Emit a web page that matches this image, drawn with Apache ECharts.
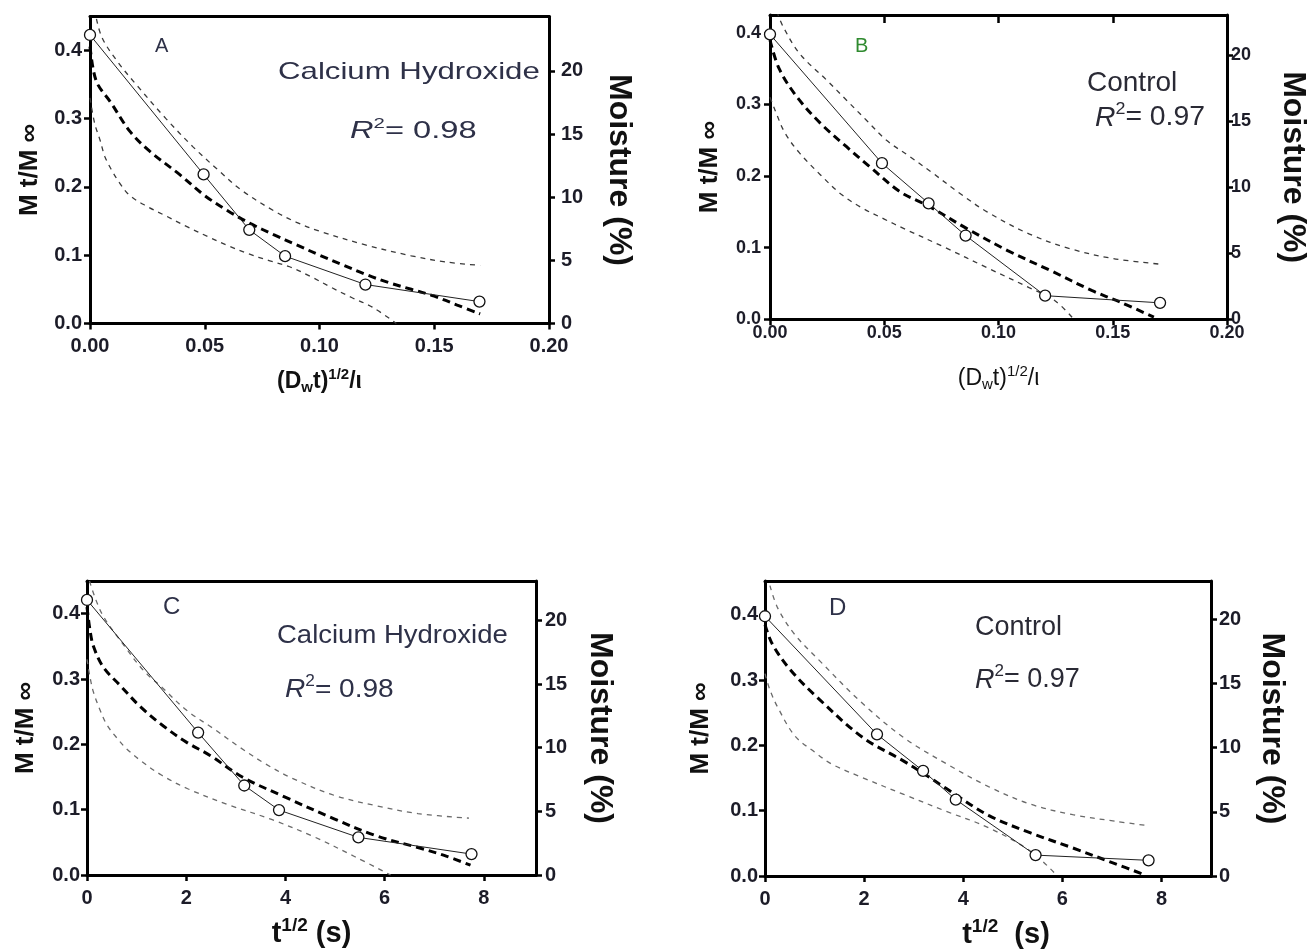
<!DOCTYPE html>
<html><head><meta charset="utf-8">
<script src="https://cdn.jsdelivr.net/npm/echarts@6/dist/echarts.min.js"></script>
<style>html,body{margin:0;padding:0;background:#fff}#c{width:1309px;height:951px}</style>
</head><body><div id="c"></div>
<script>
// ---------------- data ----------------
const xTicksAB = [0, 0.05, 0.10, 0.15, 0.20];
const xTicksCD = [0, 2, 4, 6, 8];
const yTicksLeft = [0, 0.1, 0.2, 0.3, 0.4];
const yTicksRight = [0, 5, 10, 15, 20];

// Panel A
const aObsX = [0, 0.0495, 0.0694, 0.085, 0.120, 0.1697];
const aObsY = [0.422, 0.218, 0.137, 0.0985, 0.057, 0.032];
const aFitX = [0, 0.0015, 0.0035, 0.0087, 0.0174, 0.026, 0.039, 0.05, 0.06, 0.07, 0.08, 0.09, 0.10, 0.11, 0.12, 0.13, 0.14, 0.15, 0.16, 0.17];
const aFitY = [0.405, 0.37, 0.349, 0.325, 0.281, 0.252, 0.218, 0.187, 0.165, 0.146, 0.13, 0.115, 0.10, 0.086, 0.072, 0.060, 0.050, 0.040, 0.027, 0.014];
const aUpX = [0.002, 0.005, 0.012, 0.02, 0.033, 0.045, 0.056, 0.066, 0.08, 0.09, 0.10, 0.12, 0.14, 0.155, 0.17];
const aUpY = [0.46, 0.42, 0.383, 0.35, 0.30, 0.258, 0.224, 0.195, 0.165, 0.148, 0.135, 0.115, 0.099, 0.090, 0.085];
const aLoX = [0, 0.002, 0.0044, 0.0065, 0.0095, 0.013, 0.0174, 0.025, 0.0333, 0.042, 0.0514, 0.06, 0.069, 0.078, 0.087, 0.096, 0.105, 0.114, 0.123, 0.1335];
const aLoY = [0.33, 0.293, 0.268, 0.244, 0.224, 0.205, 0.187, 0.171, 0.157, 0.142, 0.127, 0.114, 0.102, 0.092, 0.083, 0.069, 0.053, 0.038, 0.024, 0.0];

// Panel B
const bObsX = [0, 0.049, 0.0694, 0.0856, 0.1204, 0.1707];
const bObsY = [0.398, 0.218, 0.162, 0.117, 0.033, 0.023];
const bFitX = [0, 0.004, 0.0117, 0.022, 0.0335, 0.0437, 0.057, 0.0694, 0.086, 0.104, 0.1228, 0.141, 0.154, 0.168];
const bFitY = [0.39, 0.35, 0.311, 0.274, 0.241, 0.213, 0.178, 0.158, 0.127, 0.096, 0.068, 0.040, 0.023, 0.003];
const bUpX = [0.003, 0.0057, 0.013, 0.0248, 0.0335, 0.0422, 0.051, 0.0613, 0.0713, 0.083, 0.095, 0.1136, 0.132, 0.150, 0.1707];
const bUpY = [0.43, 0.409, 0.371, 0.334, 0.306, 0.278, 0.25, 0.227, 0.204, 0.176, 0.150, 0.119, 0.098, 0.085, 0.077];
const bLoX = [0, 0.0022, 0.0066, 0.013, 0.022, 0.031, 0.04, 0.05, 0.0584, 0.0768, 0.095, 0.1136, 0.1247, 0.133];
const bLoY = [0.31, 0.292, 0.26, 0.232, 0.202, 0.175, 0.156, 0.14, 0.127, 0.100, 0.072, 0.044, 0.026, 0.0];

// Panel C
const cObsX = [0, 2.24, 3.17, 3.87, 5.47, 7.75];
const cObsY = [0.421, 0.218, 0.137, 0.0994, 0.0576, 0.032];
const cFitX = [0, 0.06, 0.13, 0.33, 0.67, 1.07, 1.54, 2.01, 2.48, 3.13, 3.97, 4.98, 5.83, 6.67, 7.2, 7.73];
const cFitY = [0.41, 0.375, 0.35, 0.318, 0.29, 0.258, 0.228, 0.203, 0.183, 0.150, 0.120, 0.086, 0.060, 0.042, 0.030, 0.015];
const cUpX = [0.05, 0.3, 0.76, 1.14, 1.5, 2.01, 2.55, 3.09, 3.6, 4.14, 4.98, 5.83, 6.67, 7.7];
const cUpY = [0.45, 0.40, 0.35, 0.313, 0.288, 0.252, 0.224, 0.195, 0.170, 0.148, 0.122, 0.106, 0.094, 0.087];
const cLoX = [0, 0.06, 0.13, 0.25, 0.4, 0.6, 0.8, 1.1, 1.5, 2.03, 2.87, 3.72, 4.56, 5.4, 6.12];
const cLoY = [0.33, 0.303, 0.28, 0.255, 0.23, 0.21, 0.193, 0.174, 0.153, 0.132, 0.107, 0.085, 0.059, 0.028, 0.0];

// Panel D
const dObsX = [0, 2.26, 3.19, 3.85, 5.46, 7.74];
const dObsY = [0.398, 0.217, 0.161, 0.117, 0.032, 0.024];
const dFitX = [0, 0.15, 0.51, 1.05, 1.96, 2.8, 3.2, 3.66, 4.51, 5.36, 6.21, 7.06, 7.62];
const dFitY = [0.385, 0.355, 0.316, 0.274, 0.213, 0.176, 0.157, 0.134, 0.093, 0.066, 0.043, 0.019, 0.003];
const dUpX = [0.1, 0.26, 0.6, 1.1, 1.96, 2.8, 3.66, 4.51, 5.36, 6.21, 7.06, 7.74];
const dUpY = [0.445, 0.41, 0.37, 0.33, 0.265, 0.212, 0.172, 0.137, 0.11, 0.094, 0.084, 0.077];
const dLoX = [0, 0.1, 0.26, 0.6, 1.0, 1.36, 1.96, 2.8, 3.66, 4.51, 5.36, 5.9];
const dLoY = [0.31, 0.285, 0.258, 0.215, 0.19, 0.171, 0.151, 0.125, 0.099, 0.074, 0.038, 0.0];

// ---------------- build chart ----------------
const FONT = '"Liberation Sans", Arial, sans-serif';
const TICKCOL = '#1c1c28';
const zip = (xs, ys) => xs.map((x, i) => [x, ys[i]]);

const panels = [
  { grid: {left: 90, top: 16.5, width: 459, height: 307}, xMax: 0.2, yMax: 0.449, rMax: 24.3,
    xTicks: xTicksAB, xDec: 2, lblSize: 20, xMargin: 13, yMargin: 8, rMargin: 12, topTicks: false,
    xName: '(D{sub|w}t){sup|1/2}/ι', xNameSize: 23, xNameWeight: 'bold', xNameGap: 44, xNamePad: 0,
    yNameGap: 47, rNameGap: 54, band: '#3a3a3a',
    obs: [aObsX, aObsY], fit: [aFitX, aFitY], up: [aUpX, aUpY], lo: [aLoX, aLoY] },
  { grid: {left: 770, top: 15, width: 457, height: 304.3}, xMax: 0.2, yMax: 0.425, rMax: 23.05,
    xTicks: xTicksAB, xDec: 2, lblSize: 18, xMargin: 5, yMargin: 9, rMargin: 4, topTicks: true,
    xName: '(D{sub|w}t){sup|1/2}/ι', xNameSize: 23, xNameWeight: 'normal', xNameGap: 45, xNamePad: 0,
    yNameGap: 47, rNameGap: 50, band: '#3a3a3a',
    obs: [bObsX, bObsY], fit: [bFitX, bFitY], up: [bUpX, bUpY], lo: [bLoX, bLoY] },
  { grid: {left: 87, top: 581, width: 449, height: 294}, xMax: 9.05, yMax: 0.45, rMax: 23.1,
    xTicks: xTicksCD, xDec: 0, lblSize: 20, xMargin: 13, yMargin: 7, rMargin: 9, topTicks: false,
    xName: 't{sup|1/2} (s)', xNameSize: 29, xNameWeight: 'bold', xNameGap: 41, xNamePad: 0,
    yNameGap: 48, rNameGap: 48, band: '#6a6a6a',
    obs: [cObsX, cObsY], fit: [cFitX, cFitY], up: [cUpX, cUpY], lo: [cLoX, cLoY] },
  { grid: {left: 765, top: 581, width: 446, height: 295}, xMax: 9.0, yMax: 0.452, rMax: 23.0,
    xTicks: xTicksCD, xDec: 0, lblSize: 20, xMargin: 13, yMargin: 7, rMargin: 8, topTicks: false,
    xName: 't{sup|1/2}  (s)', xNameSize: 29, xNameWeight: 'bold', xNameGap: 41.5, xNamePad: 36,
    yNameGap: 51, rNameGap: 45, band: '#6a6a6a',
    obs: [dObsX, dObsY], fit: [dFitX, dFitY], up: [dUpX, dUpY], lo: [dLoX, dLoY] }
];

const grids = [], xAxes = [], yAxes = [], series = [];
const axLine = {show: true, onZero: false, lineStyle: {color: '#000', width: 3}};

panels.forEach((p, i) => {
  grids.push(Object.assign({containLabel: false, outerBoundsMode: 'none', show: false}, p.grid));
  const lbl = {fontFamily: FONT, fontWeight: 'bold', fontSize: p.lblSize, color: TICKCOL};
  const supSize = Math.round(p.xNameSize * 0.65);
  xAxes.push({
    gridIndex: i, type: 'value', min: 0, max: p.xMax, position: 'bottom',
    axisLine: axLine,
    axisTick: {show: true, inside: false, length: 6, lineStyle: {color: '#000', width: 2.5}, customValues: p.xTicks},
    axisLabel: Object.assign({customValues: p.xTicks, margin: p.xMargin, formatter: v => v.toFixed(p.xDec)}, lbl),
    splitLine: {show: false},
    name: p.xName, nameLocation: 'middle', nameGap: p.xNameGap, nameMoveOverlap: false,
    nameTextStyle: {
      fontFamily: FONT, fontSize: p.xNameSize, fontWeight: p.xNameWeight, color: '#111',
      lineHeight: Math.round(p.xNameSize * 1.2), padding: [0, 0, 0, p.xNamePad],
      rich: {
        sup: {fontFamily: FONT, fontSize: supSize, fontWeight: p.xNameWeight, color: '#111',
              lineHeight: supSize, verticalAlign: 'top'},
        sub: {fontFamily: FONT, fontSize: supSize, fontWeight: p.xNameWeight, color: '#111',
              lineHeight: supSize, verticalAlign: 'bottom'}
      }
    }
  });
  xAxes.push({
    gridIndex: i, type: 'value', min: 0, max: p.xMax, position: 'top',
    axisLine: axLine,
    axisTick: {show: p.topTicks, inside: true, length: 8, lineStyle: {color: '#000', width: 2.5}, customValues: p.xTicks},
    axisLabel: {show: false}, splitLine: {show: false}
  });
  yAxes.push({
    gridIndex: i, type: 'value', min: 0, max: p.yMax, position: 'left',
    axisLine: axLine,
    axisTick: {show: true, inside: false, length: 6, lineStyle: {color: '#000', width: 2.5}, customValues: yTicksLeft},
    axisLabel: Object.assign({customValues: yTicksLeft, margin: p.yMargin, formatter: v => v.toFixed(1)}, lbl),
    splitLine: {show: false},
    name: 'M t/M ∞', nameLocation: 'middle', nameRotate: 90, nameGap: p.yNameGap, nameMoveOverlap: false,
    nameTextStyle: {fontFamily: FONT, fontSize: 26, fontWeight: 'bold', color: '#111'}
  });
  yAxes.push({
    gridIndex: i, type: 'value', min: 0, max: p.rMax, position: 'right',
    axisLine: axLine,
    axisTick: {show: true, inside: false, length: 6, lineStyle: {color: '#000', width: 2.5}, customValues: yTicksRight},
    axisLabel: Object.assign({customValues: yTicksRight, margin: p.rMargin, formatter: v => String(v)}, lbl),
    splitLine: {show: false},
    name: 'Moisture (%)', nameLocation: 'middle', nameRotate: -90, nameGap: p.rNameGap, nameMoveOverlap: false,
    nameTextStyle: {fontFamily: FONT, fontSize: 32, fontWeight: 'bold', color: '#111'}
  });

  const xi = 2 * i, yi = 2 * i;
  const bandStyle = {color: p.band, width: 1.3, type: [5, 5]};
  series.push({type: 'line', xAxisIndex: xi, yAxisIndex: yi, data: zip(p.up[0], p.up[1]), smooth: 0.35,
    showSymbol: false, clip: true, lineStyle: bandStyle, silent: true, z: 2});
  series.push({type: 'line', xAxisIndex: xi, yAxisIndex: yi, data: zip(p.lo[0], p.lo[1]), smooth: 0.35,
    showSymbol: false, clip: true, lineStyle: bandStyle, silent: true, z: 2});
  series.push({type: 'line', xAxisIndex: xi, yAxisIndex: yi, data: zip(p.fit[0], p.fit[1]), smooth: 0.35,
    showSymbol: false, clip: true, lineStyle: {color: '#000', width: 3, type: [8, 5]}, silent: true, z: 3});
  series.push({type: 'line', xAxisIndex: xi, yAxisIndex: yi, data: zip(p.obs[0], p.obs[1]), smooth: false,
    symbol: 'circle', symbolSize: 11, showSymbol: true, clip: false,
    lineStyle: {color: '#222', width: 1}, itemStyle: {color: '#fff', borderColor: '#111', borderWidth: 1.3},
    silent: true, z: 4});
});

// ---------------- annotations ----------------
function txt(x, y, text, size, color, scaleX, weight) {
  return {type: 'text', x: x, y: y, scaleX: scaleX || 1, z: 100,
    style: {text: text, fontFamily: FONT, fontSize: size, fontWeight: weight || 'normal', fill: color,
            align: 'left', verticalAlign: 'middle', textAlign: 'left', textVerticalAlign: 'middle'}};
}
function r2(x, y, val, size, color, scaleX) {
  const s = Math.round(size * 0.62), lh = Math.round(size * 1.25);
  return {type: 'text', x: x, y: y, scaleX: scaleX || 1, z: 100,
    style: {text: '{i|R}{s|2}{n|= ' + val + '}', fontFamily: FONT, fontSize: size, fill: color,
      align: 'left', verticalAlign: 'middle', textAlign: 'left', textVerticalAlign: 'middle',
      rich: {
        i: {fontFamily: FONT, fontSize: size, fontStyle: 'italic', fill: color, lineHeight: lh, verticalAlign: 'middle'},
        s: {fontFamily: FONT, fontSize: s, fill: color, lineHeight: s, verticalAlign: 'top'},
        n: {fontFamily: FONT, fontSize: size, fill: color, lineHeight: lh, verticalAlign: 'middle'}
      }}};
}
const NAVY = '#2e3148';
const graphic = [
  txt(155, 46, 'A', 20, NAVY),
  txt(278, 72, 'Calcium Hydroxide', 24, NAVY, 1.3),
  r2(350, 131, '0.98', 24, NAVY, 1.36),
  txt(855, 46, 'B', 20, '#2f8a2f'),
  txt(1087, 83, 'Control', 28, '#2a2a35'),
  r2(1095, 118, '0.97', 27, '#2a2a35', 1.05),
  txt(163, 607, 'C', 24, NAVY),
  txt(277, 636, 'Calcium Hydroxide', 25, NAVY, 1.1),
  r2(285, 690, '0.98', 26, NAVY, 1.08),
  txt(829, 608, 'D', 24, NAVY),
  txt(975, 628, 'Control', 27, '#2a2a35'),
  r2(975, 680, '0.97', 27, '#2a2a35', 1.0)
];

const chart = echarts.init(document.getElementById('c'), null, {renderer: 'canvas'});
chart.setOption({
  animation: false,
  backgroundColor: '#fff',
  grid: grids, xAxis: xAxes, yAxis: yAxes, series: series, graphic: graphic
});
</script>
</body></html>
